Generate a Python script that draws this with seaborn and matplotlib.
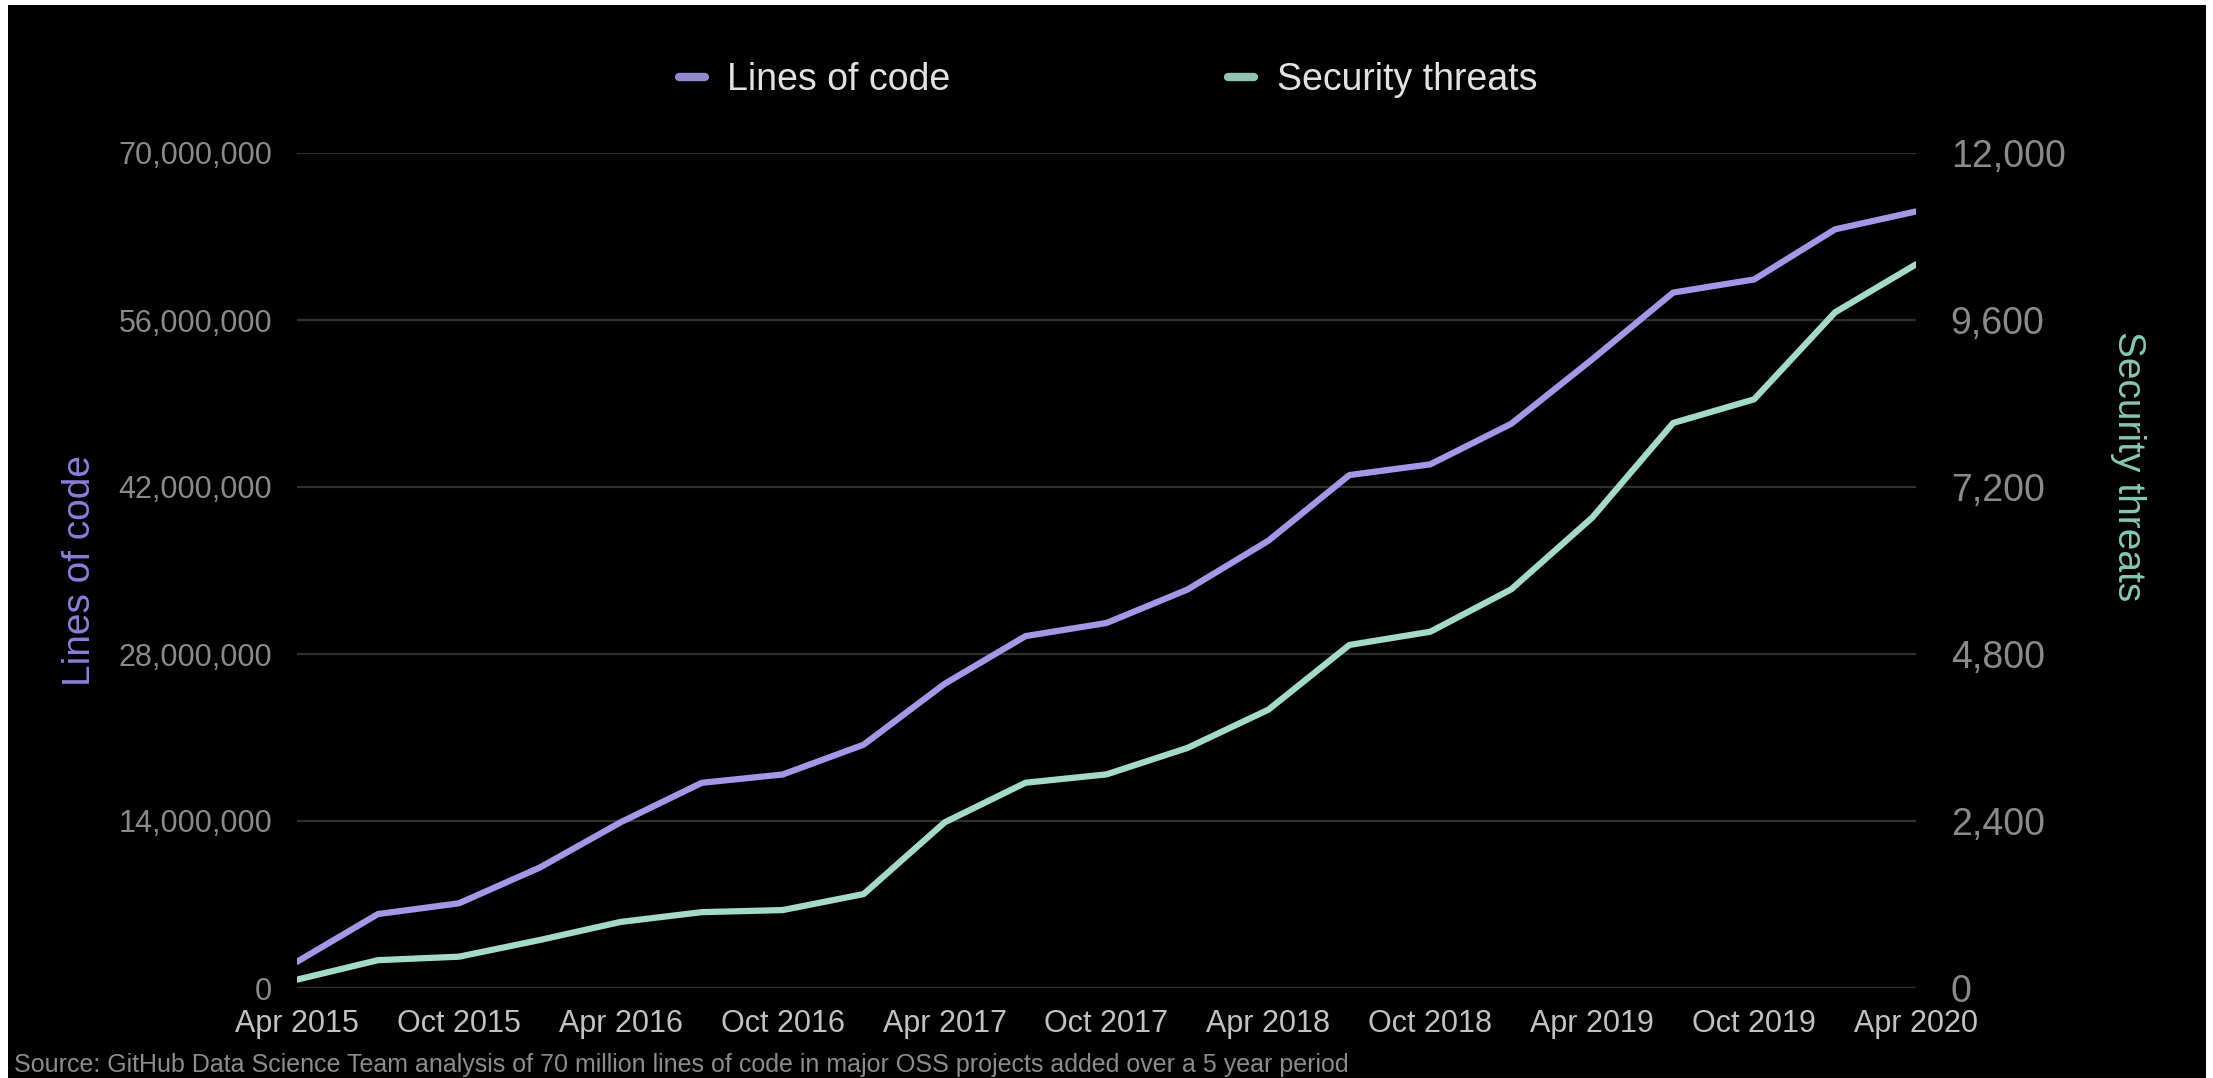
import matplotlib
matplotlib.use('Agg')
import matplotlib.pyplot as plt
from matplotlib.patches import Rectangle
from matplotlib.ticker import FuncFormatter
from matplotlib.lines import Line2D
import pandas as pd
import seaborn as sns

# quarterly data
quarters = ['Apr 2015', 'Jul 2015', 'Oct 2015', 'Jan 2016', 'Apr 2016', 'Jul 2016', 'Oct 2016',
            'Jan 2017', 'Apr 2017', 'Jul 2017', 'Oct 2017', 'Jan 2018', 'Apr 2018', 'Jul 2018',
            'Oct 2018', 'Jan 2019', 'Apr 2019', 'Jul 2019', 'Oct 2019', 'Jan 2020', 'Apr 2020']
lines_of_code = [2.2e6, 6.2e6, 7.1e6, 10.1e6, 13.9e6, 17.2e6, 17.9e6, 20.4e6, 25.5e6, 29.5e6, 30.6e6,
                 33.4e6, 37.5e6, 43.0e6, 43.9e6, 47.3e6, 52.7e6, 58.3e6, 59.4e6, 63.6e6, 65.1e6]
security_threats = [120, 400, 450, 690, 950, 1090, 1120, 1350, 2380, 2950, 3070,
                    3450, 4000, 4930, 5120, 5730, 6760, 8120, 8460, 9710, 10400]
tick_labels = quarters[::2]
left_ticks = [0, 14000000, 28000000, 42000000, 56000000, 70000000]
right_ticks = [0, 2400, 4800, 7200, 9600, 12000]

df = pd.DataFrame({'quarter': quarters, 'loc': lines_of_code, 'threats': security_threats})

purple = '#a696e8'
teal = '#a3dac9'

sns.set_style('dark')
plt.rcParams['font.family'] = ['Liberation Sans', 'DejaVu Sans']

fig = plt.figure(figsize=(22.13, 10.78), dpi=100, facecolor='white')
# screenshot has a thin white border top/left/right
fig.patches.append(Rectangle((8 / 2213, 0), 2198 / 2213, 1073 / 1078, transform=fig.transFigure,
                             facecolor='black', edgecolor='none', zorder=-10))

ax = fig.add_axes([297 / 2213, 90 / 1078, 1619 / 2213, 835 / 1078])
ax.set_facecolor('black')
sns.lineplot(data=df, x='quarter', y='loc', ax=ax, color=purple, linewidth=4.5, sort=False)
ax.set_xlim(0, len(quarters) - 1)
ax.set_ylim(0, 70000000)
ax.set_yticks(left_ticks)
ax.yaxis.set_major_formatter(FuncFormatter(lambda v, p: f'{int(v):,}'))
ax.set_xticks(range(0, len(quarters), 2))
ax.set_xticklabels(tick_labels)
ax.tick_params(axis='y', length=0, pad=18, labelsize=22, labelcolor='#8a8a8a')
ax.tick_params(axis='x', length=0, pad=15, labelsize=22, labelcolor='#c2c2c2')
ax.grid(axis='y', color='#303030', linewidth=1.6)
ax.grid(axis='x', visible=False)
for s in ax.spines.values():
    s.set_visible(False)
ax.set_xlabel('')
ax.set_ylabel('Lines of code', fontsize=28, color='#8a7fdb')
ax.yaxis.set_label_coords(-0.123, 0.5)

ax2 = ax.twinx()
sns.lineplot(data=df, x='quarter', y='threats', ax=ax2, color=teal, linewidth=4.5, sort=False)
ax2.set_ylim(0, 12000)
ax2.set_yticks(right_ticks)
ax2.yaxis.set_major_formatter(FuncFormatter(lambda v, p: f'{int(v):,}'))
ax2.tick_params(axis='y', length=0, pad=25, labelsize=27, labelcolor='#8a8a8a')
ax2.grid(False)
for s in ax2.spines.values():
    s.set_visible(False)
ax2.set_ylabel('Security threats', fontsize=28, color='#86c7b5', rotation=270)
ax2.yaxis.set_label_coords(1.142, 0.625)

handles = [Line2D([], [], color='#8f88cc', linewidth=6, solid_capstyle='round'),
           Line2D([], [], color='#8fc4b4', linewidth=6, solid_capstyle='round')]
leg = fig.legend(handles, ['Lines of code', 'Security threats'], loc='center', ncol=2,
                 bbox_to_anchor=(0.5007, 0.926), frameon=False, fontsize=27,
                 handlelength=0.7, handletextpad=0.6, columnspacing=7.4)
for t in leg.get_texts():
    t.set_color('#e2e2e2')

fig.text(14 / 2213, 1 - 1065 / 1078,
         'Source: GitHub Data Science Team analysis of 70 million lines of code in major OSS projects added over a 5 year period',
         fontsize=18, color='#8c8c8c', ha='left', va='center')

plt.savefig('out.png', dpi=100, facecolor=fig.get_facecolor())
